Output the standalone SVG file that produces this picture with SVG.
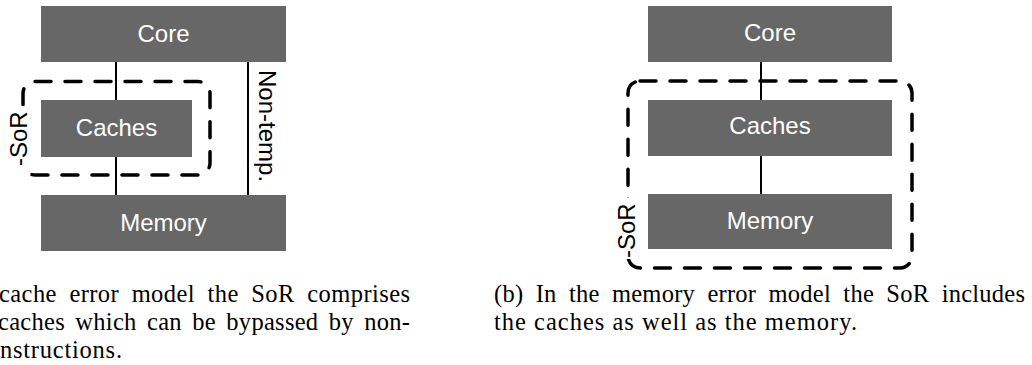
<svg xmlns="http://www.w3.org/2000/svg" width="1032" height="365" viewBox="0 0 1032 365">
  <style>
    .box { fill: #676767; }
    .lbl { fill: #ffffff; font-family: "Liberation Sans", Arial, sans-serif; font-size: 24px; text-anchor: middle; }
    .side { fill: #000000; font-family: "Liberation Sans", Arial, sans-serif; font-size: 24px; }
    .wire { stroke: #000000; stroke-width: 2; fill: none; }
    .sor { stroke: #000000; stroke-width: 3.5; fill: none; stroke-dasharray: 16 14; stroke-linecap: round; }
    .cap { fill: #000000; font-family: "Liberation Serif", "Times New Roman", serif; font-size: 24.5px; }
  </style>

  <rect width="1032" height="365" fill="#ffffff"/>

  <!-- (a) cache error model -->
  <g id="a-connectors">
    <line class="wire" x1="116" y1="62" x2="116" y2="195"/>
    <line class="wire" x1="248" y1="62" x2="248" y2="195"/>
  </g>
  <g id="a-core">
    <rect class="box" x="41" y="6" width="245" height="56"/>
    <text class="lbl" x="163.5" y="42">Core</text>
  </g>
  <g id="a-caches">
    <rect class="box" x="41" y="100" width="151" height="57"/>
    <text class="lbl" x="116.5" y="136">Caches</text>
  </g>
  <g id="a-memory">
    <rect class="box" x="41" y="195" width="245" height="56"/>
    <text class="lbl" x="163.5" y="231">Memory</text>
  </g>
  <g id="a-nontemp">
    <text class="side" transform="translate(259,70) rotate(90)">Non-temp.</text>
  </g>
  <g id="a-sor">
    <rect class="sor" x="23" y="81.5" width="187" height="93.5" rx="12"/>
    <rect x="8" y="106" width="22" height="61" fill="#ffffff"/>
    <text class="side" transform="translate(27,166) rotate(-90)">-SoR</text>
  </g>

  <!-- (b) memory error model -->
  <g id="b-connectors">
    <line class="wire" x1="761" y1="62" x2="761" y2="194"/>
  </g>
  <g id="b-core">
    <rect class="box" x="648" y="6" width="244" height="56"/>
    <text class="lbl" x="770" y="41">Core</text>
  </g>
  <g id="b-caches">
    <rect class="box" x="648" y="100" width="244" height="56"/>
    <text class="lbl" x="770" y="134">Caches</text>
  </g>
  <g id="b-memory">
    <rect class="box" x="648" y="194" width="244" height="55"/>
    <text class="lbl" x="770" y="229">Memory</text>
  </g>
  <g id="b-sor">
    <rect class="sor" x="628" y="81" width="284" height="187" rx="12"/>
    <rect x="613" y="198" width="27" height="61" fill="#ffffff"/>
    <text class="side" transform="translate(635,258) rotate(-90)">-SoR</text>
  </g>

  <!-- captions (justified lines get extra word spacing) -->
  <g id="captions">
    <text class="cap" x="-1" y="302" word-spacing="6" textLength="411" lengthAdjust="spacing">cache error model the SoR comprises</text>
    <text class="cap" x="-2" y="330" word-spacing="4" textLength="412" lengthAdjust="spacing">caches which can be bypassed by non-</text>
    <text class="cap" x="0" y="358" textLength="122" lengthAdjust="spacing">nstructions.</text>
    <text class="cap" x="494" y="302" word-spacing="6" textLength="531" lengthAdjust="spacing">(b) In the memory error model the SoR includes</text>
    <text class="cap" x="494" y="330" textLength="363" lengthAdjust="spacing">the caches as well as the memory.</text>
  </g>
</svg>
